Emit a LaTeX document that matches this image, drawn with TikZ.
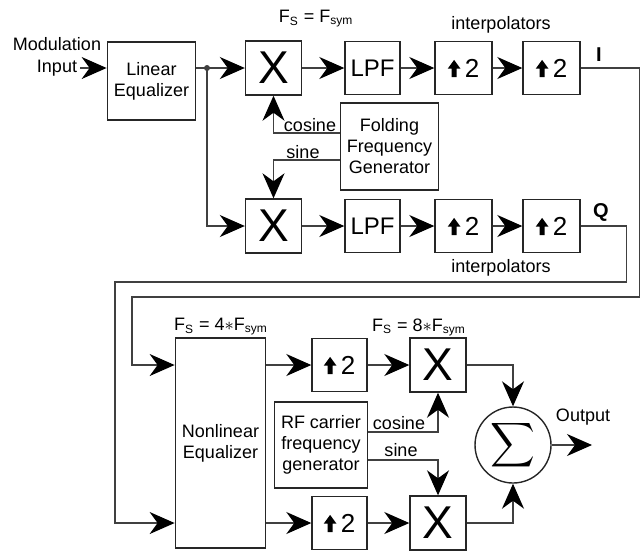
\documentclass[tikz,border=0pt]{standalone}
\usepackage{graphicx}
\usepackage{fontspec}
\setmainfont{Liberation Sans}
\usetikzlibrary{arrows.meta,positioning,calc}

\newcommand{\uparr}{\tikz[baseline=0pt]\fill[black] (-1.3pt,0pt) -- (-1.3pt,4.2pt) -- (-3.2pt,4.2pt) -- (0pt,8.6pt) -- (3.2pt,4.2pt) -- (1.3pt,4.2pt) -- (1.3pt,0pt) -- cycle;}

\begin{document}
\begin{tikzpicture}[x=0.5pt, y=-0.5pt,
    block/.style={draw=black!85, line width=0.7pt, fill=white, align=center, font=\fontsize{9}{10.5}\selectfont},
    mixer/.style={block, minimum width=28pt, minimum height=27pt, inner sep=0pt, font=\fontsize{23}{23}\selectfont},
    filter/.style={block, minimum width=27.5pt, minimum height=26.5pt, inner sep=0pt, font=\fontsize{12}{12}\selectfont},
    upsamp/.style={block, minimum width=28.5pt, minimum height=26.5pt, inner sep=0pt, font=\fontsize{13}{13}\selectfont},
    lbl/.style={inner sep=1pt, align=center, font=\fontsize{9}{11}\selectfont},
    wire/.style={draw=black!75, line width=0.6pt},
    edge/.style={wire, -{Stealth[length=12.5pt,width=11pt,inset=4pt,color=black]}}
]
\useasboundingbox (0,0) rectangle (640,553);

% upper part: I/Q split
\node[block, minimum width=41.5pt, minimum height=39pt] (lineq) at (151.5,81) {Linear\\Equalizer};
\node[mixer] (mixI) at (273.5,68) {X};
\node[filter] (lpfI) at (372.5,68) {LPF};
\node[upsamp] (upIa) at (463.5,68) {\uparr\,2};
\node[upsamp] (upIb) at (551.5,68) {\uparr\,2};
\node[block, minimum width=44.5pt, minimum height=43.5pt] (fold) at (389.5,146.5) {Folding\\Frequency\\Generator};
\node[mixer] (mixQ) at (273.5,226) {X};
\node[filter] (lpfQ) at (372.5,226) {LPF};
\node[upsamp] (upQa) at (463.5,226) {\uparr\,2};
\node[upsamp] (upQb) at (551.5,226) {\uparr\,2};

% lower part: RF up-conversion
\node[block, minimum width=42.5pt, minimum height=105pt] (nleq) at (220.5,443) {Nonlinear\\Equalizer};
\node[upsamp, minimum width=27.5pt] (upA) at (339.5,365) {\uparr\,2};
\node[upsamp, minimum width=27.5pt] (upB) at (339.5,523) {\uparr\,2};
\node[block, minimum width=46pt, minimum height=43pt] (rfgen) at (321,445) {RF carrier\\frequency\\generator};
\node[mixer] (mixA) at (438,365) {X};
\node[mixer] (mixB) at (438,523) {X};
\node[circle, draw=black!85, line width=0.7pt, minimum size=38pt, inner sep=0pt] (sum) at (513,445) {\scalebox{1.55}{$\displaystyle\sum$}};

\coordinate (modin) at (80,68);
\coordinate (split) at (207,68);
\coordinate (output) at (592,445);

% labels
\node[lbl] (modlbl) at (57,57) {Modulation\\Input};
\node[lbl] (fsA) at (316,19) {F\textsubscript{S} = F\textsubscript{sym}};
\node[lbl] (interpI) at (501,25) {interpolators};
\node[lbl] (interpQ) at (501,268) {interpolators};
\node[lbl, font=\fontsize{10}{10}\selectfont\bfseries] (ilbl) at (599,55) {I};
\node[lbl, font=\fontsize{10}{10}\selectfont\bfseries] (qlbl) at (601,212) {Q};
\node[lbl] (coslblA) at (310,125) {cosine};
\node[lbl] (sinlblA) at (303,152) {sine};
\node[lbl] (fsB) at (221,327) {F\textsubscript{S} = 4$\ast$F\textsubscript{sym}};
\node[lbl] (fsC) at (419,327) {F\textsubscript{S} = 8$\ast$F\textsubscript{sym}};
\node[lbl] (coslblB) at (399,423) {cosine};
\node[lbl] (sinlblB) at (401,450) {sine};
\node[lbl] (outlbl) at (583,417) {Output};

% connectors
\draw[edge] (modin) -- (modin -| lineq.west);
\draw[wire] (modin -| lineq.east) -- (split);
\fill[black!75] (split) circle (1.5pt);
\draw[edge] (split) -- (mixI);
\draw[edge] (split) |- (mixQ);
\draw[edge] (mixI) -- (lpfI);
\draw[edge] (lpfI) -- (upIa);
\draw[edge] (upIa) -- (upIb);
\draw[edge] (mixQ) -- (lpfQ);
\draw[edge] (lpfQ) -- (upQa);
\draw[edge] (upQa) -- (upQb);
\draw[edge] ([yshift=6.75pt]fold.west) -| (mixI.south);
\draw[edge] ([yshift=-6.75pt]fold.west) -| (mixQ.north);
\draw[edge] (upIb.east) -- ++(59,0) |- (132,297) |- (nleq.west |- upA);
\draw[edge] (upQb.east) -- ++(46,0) |- (115,282) |- (nleq.west |- upB);
\draw[edge] (nleq.east |- upA) -- (upA);
\draw[edge] (upA) -- (mixA);
\draw[edge] (nleq.east |- upB) -- (upB);
\draw[edge] (upB) -- (mixB);
\draw[edge] ([yshift=6.5pt]rfgen.east) -| (mixA.south);
\draw[edge] ([yshift=-7.5pt]rfgen.east) -| (mixB.north);
\draw[edge] (mixA.east) -| (sum.north);
\draw[edge] (mixB.east) -| (sum.south);
\draw[edge] (sum.east) -- (output);
\end{tikzpicture}
\end{document}
